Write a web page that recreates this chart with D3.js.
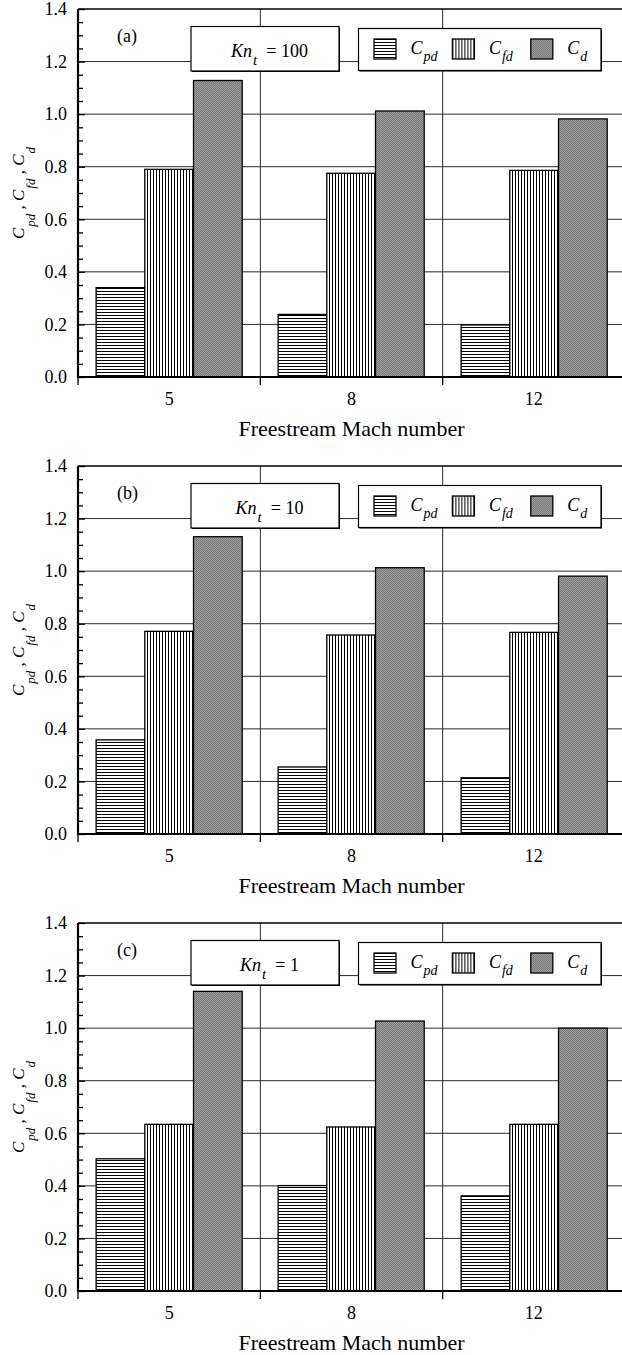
<!DOCTYPE html>
<html>
<head>
<meta charset="utf-8">
<script src="https://cdn.jsdelivr.net/npm/d3@7"></script>
<style>
  html, body { margin: 0; padding: 0; background: #fff; }
  svg { display: block; font-family: "Liberation Serif", "Times New Roman", serif; }
</style>
</head>
<body>
<svg id="chart" width="622" height="1355"></svg>
<script>
// Freestream Mach numbers on the x axis
const machNumbers = ["5", "8", "12"];
// drag components, in legend order
const seriesKeys = ["Cpd", "Cfd", "Cd"];
const seriesSubs = ["pd", "fd", "d"];
// one panel per Knudsen number
const knValues = ["100", "10", "1"];
const panelTags = ["(a)", "(b)", "(c)"];

// pressure drag coefficient, per panel, per Mach number
const cpdValues = [
  [0.340, 0.238, 0.198],
  [0.358, 0.255, 0.214],
  [0.503, 0.401, 0.362]
];
// friction drag coefficient
const cfdValues = [
  [0.790, 0.775, 0.786],
  [0.771, 0.757, 0.767],
  [0.634, 0.624, 0.634]
];
// total drag coefficient
const cdValues = [
  [1.128, 1.012, 0.982],
  [1.131, 1.013, 0.981],
  [1.140, 1.027, 1.000]
];

const majorTicks = [0.0, 0.2, 0.4, 0.6, 0.8, 1.0, 1.2, 1.4];
const minorTicks = [0.05, 0.1, 0.15, 0.25, 0.3, 0.35, 0.45, 0.5, 0.55, 0.65, 0.7, 0.75,
                    0.85, 0.9, 0.95, 1.05, 1.1, 1.15, 1.25, 1.3, 1.35];
const gridValues = [0.2, 0.4, 0.6, 0.8, 1.0, 1.2];

const panelTops = [9, 466, 923];
const panelH = 368;
const plotLeft = 78, plotRight = 625;
const fontStack = '"Liberation Serif", "Times New Roman", serif';

const svg = d3.select("#chart");
const defs = svg.append("defs");

// horizontal hatching for Cpd
const pH = defs.append("pattern").attr("id", "hatchH")
  .attr("patternUnits", "userSpaceOnUse").attr("width", 6).attr("height", 3);
pH.append("rect").attr("width", 6).attr("height", 3).attr("fill", "#fff");
pH.append("rect").attr("x", 0).attr("y", 0).attr("width", 6).attr("height", 1).attr("fill", "#000");

// vertical hatching for Cfd
const pV = defs.append("pattern").attr("id", "hatchV")
  .attr("patternUnits", "userSpaceOnUse").attr("width", 3).attr("height", 6);
pV.append("rect").attr("width", 3).attr("height", 6).attr("fill", "#fff");
pV.append("rect").attr("x", 0).attr("y", 0).attr("width", 1).attr("height", 6).attr("fill", "#000");

// fine stipple for Cd
const pD = defs.append("pattern").attr("id", "stipple")
  .attr("patternUnits", "userSpaceOnUse").attr("width", 2).attr("height", 2);
pD.append("rect").attr("width", 2).attr("height", 2).attr("fill", "#a4a4a4");
pD.append("rect").attr("x", 0).attr("y", 0).attr("width", 1).attr("height", 1).attr("fill", "#727272");
pD.append("rect").attr("x", 1).attr("y", 1).attr("width", 1).attr("height", 1).attr("fill", "#727272");

const fills = { Cpd: "url(#hatchH)", Cfd: "url(#hatchV)", Cd: "url(#stipple)" };

const x0 = d3.scaleBand().domain(machNumbers).range([plotLeft, plotRight]);
const x1 = d3.scaleBand().domain(seriesKeys).range([0, x0.bandwidth()])
  .paddingInner(0).paddingOuter(0.372);
const y = d3.scaleLinear().domain([0, 1.4]).range([panelH, 0]);

// adds a letter followed by a lowered subscript to a text element
function addSubscripted(text, base, sub, baseSize, subSize, shift) {
  text.append("tspan").attr("font-style", "italic").attr("font-size", baseSize).text(base);
  text.append("tspan").attr("font-style", "italic").attr("font-size", subSize)
    .attr("dx", 1).attr("dy", shift).text(sub);
}

panelTops.forEach((top, p) => {
  const g = svg.append("g").attr("transform", `translate(0,${top})`);
  const rows = machNumbers.map((m, i) => ({
    mach: m,
    values: { Cpd: cpdValues[p][i], Cfd: cfdValues[p][i], Cd: cdValues[p][i] }
  }));

  // grid
  g.append("g").selectAll("line").data(gridValues).join("line")
    .attr("x1", plotLeft).attr("x2", plotRight)
    .attr("y1", d => y(d)).attr("y2", d => y(d))
    .attr("stroke", "#2a2a2a").attr("stroke-width", 1);
  g.append("g").selectAll("line").data(machNumbers.slice(1)).join("line")
    .attr("x1", d => x0(d)).attr("x2", d => x0(d))
    .attr("y1", 0).attr("y2", panelH)
    .attr("stroke", "#2a2a2a").attr("stroke-width", 1);

  // bars (group origin kept on whole pixels so the hatching stays crisp)
  const groups = g.append("g").selectAll("g").data(rows).join("g")
    .attr("transform", d => `translate(${Math.round(x0(d.mach))},0)`);
  groups.selectAll("rect")
    .data(d => seriesKeys.map(k => ({ key: k, value: d.values[k] })))
    .join("rect")
    .attr("x", d => x1(d.key))
    .attr("y", d => y(d.value))
    .attr("width", x1.bandwidth())
    .attr("height", d => y(0) - y(d.value))
    .attr("fill", d => fills[d.key])
    .attr("stroke", "#000").attr("stroke-width", 1.3);

  // left axis: minor and major inward ticks
  const ax = g.append("g").attr("transform", `translate(${plotLeft},0)`);
  ax.call(d3.axisLeft(y).tickValues(minorTicks).tickSize(-5).tickFormat(""));
  ax.select(".domain").remove();
  const axM = g.append("g").attr("transform", `translate(${plotLeft},0)`);
  axM.call(d3.axisLeft(y).tickValues(majorTicks).tickSize(-7).tickPadding(11)
    .tickFormat(d3.format(".1f")));
  axM.select(".domain").remove();
  [ax, axM].forEach(a => {
    a.attr("font-family", fontStack).attr("font-size", 18);
    a.selectAll("line").attr("stroke", "#000").attr("stroke-width", 1.3);
    a.selectAll("text").attr("fill", "#000");
  });

  // bottom axis: category labels centred, ticks at category boundaries
  const bx = g.append("g").attr("transform", `translate(0,${panelH})`);
  bx.call(d3.axisBottom(x0).tickSize(0).tickPadding(15));
  bx.select(".domain").remove();
  bx.attr("font-family", fontStack).attr("font-size", 18);
  bx.selectAll("text").attr("fill", "#000");
  const bounds = machNumbers.map(m => x0(m)).concat([plotRight]);
  bx.append("g").selectAll("line").data(bounds).join("line")
    .attr("x1", d => d).attr("x2", d => d)
    .attr("y1", 0).attr("y2", 8)
    .attr("stroke", "#000").attr("stroke-width", 1.3);

  // frame
  g.append("line").attr("x1", plotLeft).attr("x2", plotLeft).attr("y1", 0).attr("y2", panelH + 1)
    .attr("stroke", "#000").attr("stroke-width", 2.2);
  g.append("line").attr("x1", plotLeft - 1).attr("x2", plotRight).attr("y1", panelH).attr("y2", panelH)
    .attr("stroke", "#000").attr("stroke-width", 2.2);
  g.append("line").attr("x1", plotLeft).attr("x2", plotRight).attr("y1", 0).attr("y2", 0)
    .attr("stroke", "#000").attr("stroke-width", 1.6);
  g.append("line").attr("x1", plotRight).attr("x2", plotRight).attr("y1", 0).attr("y2", panelH)
    .attr("stroke", "#000").attr("stroke-width", 1.6);

  // panel tag
  g.append("text").attr("x", 117).attr("y", 33).attr("font-size", 18).text(panelTags[p]);

  // Knudsen number box
  g.append("rect").attr("x", 192).attr("y", 18.5).attr("width", 148).attr("height", 44.5).attr("fill", "#000");
  g.append("rect").attr("x", 191).attr("y", 17.5).attr("width", 148).attr("height", 44.5)
    .attr("fill", "#fff").attr("stroke", "#000").attr("stroke-width", 1.2);
  const kn = g.append("text").attr("x", 269.5).attr("y", 47.7).attr("text-anchor", "middle")
    .attr("font-size", 18);
  addSubscripted(kn, "Kn", "t", 18, 15, 8);
  kn.append("tspan").attr("dy", -8).attr("font-size", 18).text("\u00a0\u00a0= " + knValues[p]);

  // legend box
  g.append("rect").attr("x", 359.5).attr("y", 20.5).attr("width", 242.5).attr("height", 42).attr("fill", "#000");
  g.append("rect").attr("x", 358.5).attr("y", 19.5).attr("width", 242.5).attr("height", 42)
    .attr("fill", "#fff").attr("stroke", "#000").attr("stroke-width", 1.2);
  const lg = g.append("g").selectAll("g").data(seriesKeys).join("g")
    .attr("transform", (d, i) => `translate(${374 + i * 78.4},0)`);
  lg.append("rect").attr("x", 0).attr("y", 30).attr("width", 22).attr("height", 20)
    .attr("fill", d => fills[d]).attr("stroke", "#000").attr("stroke-width", 1.3);
  lg.each(function(d, i) {
    const t = d3.select(this).append("text").attr("x", 36.5).attr("y", 44.5).attr("font-size", 18);
    addSubscripted(t, "C", seriesSubs[i], 18, 14, 7);
  });

  // y-axis title
  const yl = g.append("text")
    .attr("transform", `translate(24,${panelH / 2}) rotate(-90)`)
    .attr("text-anchor", "middle").attr("font-size", 17);
  addSubscripted(yl, "C", "pd", 17, 13, 11);
  yl.append("tspan").attr("dy", -11).attr("font-style", "italic").attr("font-size", 17).text("\u00a0,\u00a0C");
  yl.append("tspan").attr("dx", 1).attr("dy", 11).attr("font-style", "italic").attr("font-size", 13).text("fd");
  yl.append("tspan").attr("dy", -11).attr("font-style", "italic").attr("font-size", 17).text("\u00a0,\u00a0C");
  yl.append("tspan").attr("dx", 1).attr("dy", 11).attr("font-style", "italic").attr("font-size", 13).text("d");

  // x-axis title
  g.append("text").attr("x", (plotLeft + plotRight) / 2).attr("y", panelH + 59)
    .attr("text-anchor", "middle").attr("font-size", 22).text("Freestream Mach number");
});
</script>
</body>
</html>
